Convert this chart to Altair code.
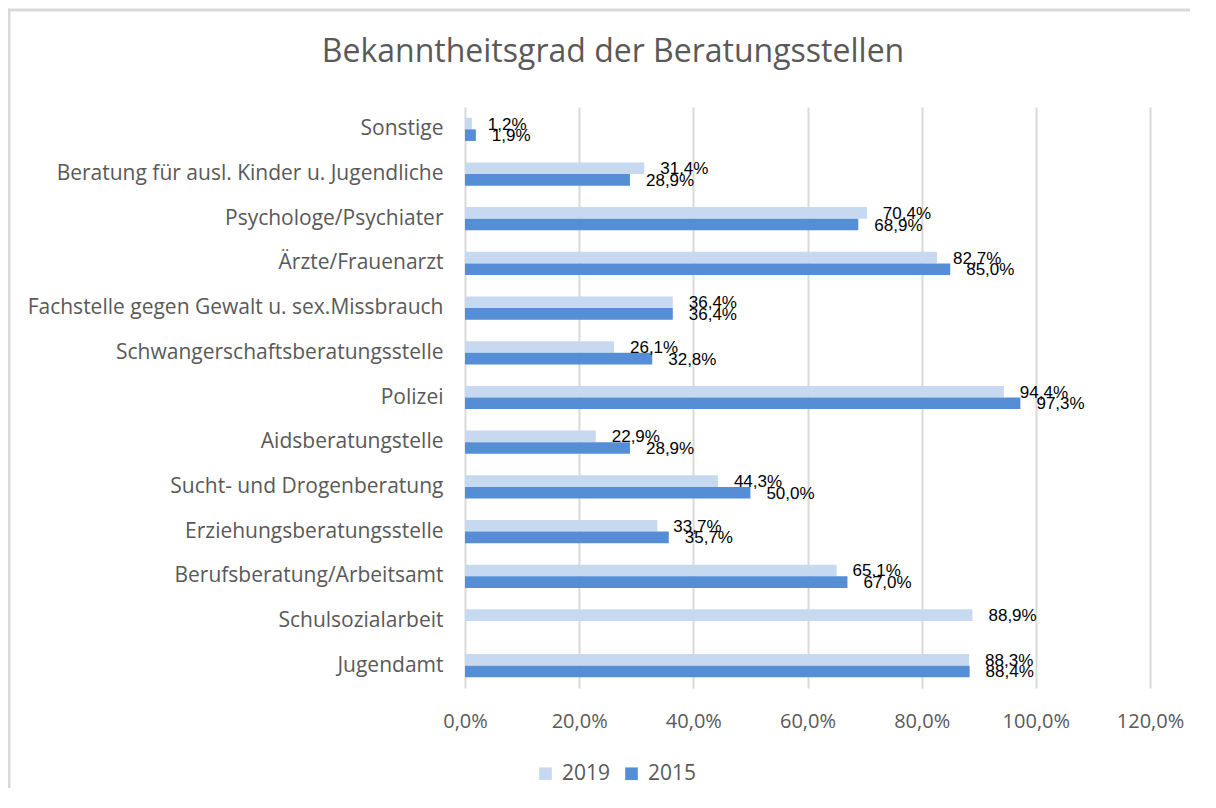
import altair as alt
import pandas as pd

categories = [
    "Sonstige",
    "Beratung für ausl. Kinder u. Jugendliche",
    "Psychologe/Psychiater",
    "Ärzte/Frauenarzt",
    "Fachstelle gegen Gewalt u. sex.Missbrauch",
    "Schwangerschaftsberatungsstelle",
    "Polizei",
    "Aidsberatungstelle",
    "Sucht- und Drogenberatung",
    "Erziehungsberatungsstelle",
    "Berufsberatung/Arbeitsamt",
    "Schulsozialarbeit",
    "Jugendamt",
]
values_2019 = [1.2, 31.4, 70.4, 82.7, 36.4, 26.1, 94.4, 22.9, 44.3, 33.7, 65.1, 88.9, 88.3]
values_2015 = [1.9, 28.9, 68.9, 85.0, 36.4, 32.8, 97.3, 28.9, 50.0, 35.7, 67.0, None, 88.4]
series = ["2019", "2015"]
series_colors = ["#C6D9F0", "#558ED5"]
x_ticks = [0, 20, 40, 60, 80, 100, 120]
title_text = "Bekanntheitsgrad der Beratungsstellen"

rows = []
for c, a, b in zip(categories, values_2019, values_2015):
    rows.append({"cat": c, "year": "2019", "value": a})
    if b is not None:
        rows.append({"cat": c, "year": "2015", "value": b})
df = pd.DataFrame(rows)
df["label"] = df["value"].map(lambda v: f"{v:.1f}".replace(".", ",") + "%")

GREY = "#595959"

y_enc = alt.Y(
    "cat:N",
    sort=categories,
    scale=alt.Scale(paddingInner=0.48, paddingOuter=0.24),
    axis=alt.Axis(
        title=None, ticks=False, domain=False,
        labelFont="Open Sans", labelFontSize=21, labelColor=GREY,
        labelPadding=22, labelLimit=600,
    ),
)
yoff_enc = alt.YOffset("year:N", sort=series, scale=alt.Scale(domain=series, paddingInner=0, paddingOuter=0))
x_enc = alt.X(
    "value:Q",
    scale=alt.Scale(domain=[0, 120], nice=False),
    axis=alt.Axis(
        values=x_ticks, title=None, domain=False, ticks=False,
        grid=True, gridColor="#D9D9D9", gridWidth=2,
        labelExpr="replace(format(datum.value, '.1f'), '.', ',') + '%'",
        labelFont="Open Sans", labelFontSize=20, labelColor=GREY,
        labelPadding=23, labelFlush=False, labelOverlap=False,
    ),
)

bars = alt.Chart(df).mark_bar().encode(
    x=x_enc,
    y=y_enc,
    yOffset=yoff_enc,
    color=alt.Color(
        "year:N",
        sort=series,
        scale=alt.Scale(domain=series, range=series_colors),
        legend=alt.Legend(
            title=None, orient="none", legendX=70, legendY=656,
            direction="horizontal", symbolType="square", symbolSize=160,
            symbolStrokeWidth=0, labelFont="Open Sans", labelFontSize=21,
            labelColor=GREY, labelOffset=6, columnPadding=10, padding=0,
        ),
    ),
)

labels = alt.Chart(df).mark_text(
    align="left", baseline="middle", dx=16, dy=1,
    font="Liberation Sans", fontSize=17, color="black",
).encode(
    x="value:Q",
    y=alt.Y("cat:N", sort=categories),
    yOffset=alt.YOffset("year:N", sort=series),
    text="label:N",
)

frame_data = alt.Data(values=[{"f": 1}])
frame_top = alt.Chart(frame_data).mark_rule(
    stroke="#D9D9D9", strokeWidth=3, clip=False
).encode(x=alt.value(-457.5), x2=alt.value(760), y=alt.value(-97))
frame_left = alt.Chart(frame_data).mark_rule(
    stroke="#D9D9D9", strokeWidth=3, clip=False
).encode(x=alt.value(-456), y=alt.value(-98.5), y2=alt.value(700))

title = alt.Chart(alt.Data(values=[{"t": title_text}])).mark_text(
    align="center", baseline="alphabetic", font="Open Sans",
    fontSize=32, color=GREY,
).encode(
    text="t:N", x=alt.value(148), y=alt.value(-44.7)
)

chart = alt.layer(frame_top, frame_left, bars, labels, title).properties(
    width=685,
    height=581,
    padding={"left": 457, "top": 99, "right": 40, "bottom": 100},
    autosize=alt.AutoSizeParams(type="none"),
).configure_view(stroke=None)

chart.save("out.html", embed_options={"renderer": "svg", "actions": False})
